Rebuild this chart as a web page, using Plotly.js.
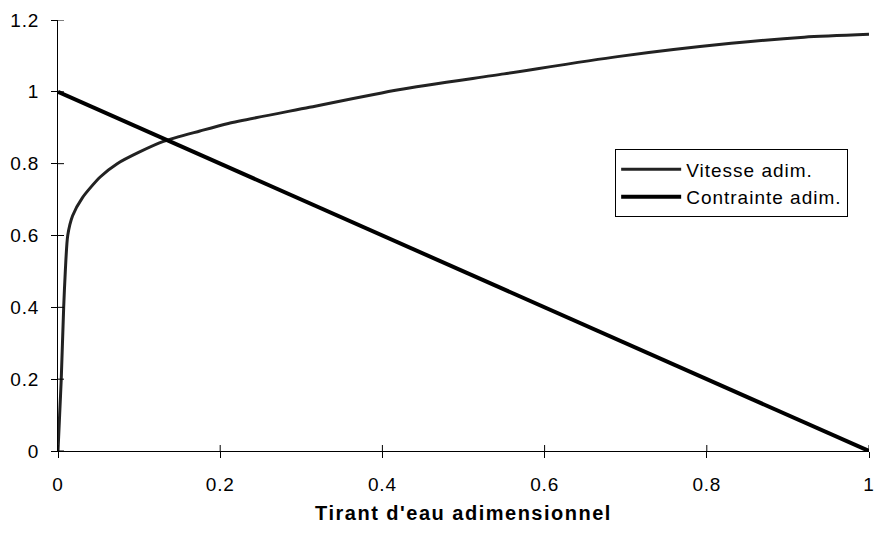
<!DOCTYPE html>
<html>
<head>
<meta charset="utf-8">
<script src="https://cdn.plot.ly/plotly-3.0.1.min.js"></script>
<style>
  html, body { margin: 0; padding: 0; background: #fff; }
  #chart { width: 874px; height: 533px; }
  .legendtext { letter-spacing: 1px; }
  .xtick text, .ytick text { letter-spacing: 0.8px; }
  .xtitle { letter-spacing: 1.5px; }
</style>
</head>
<body>
<div id="chart"></div>
<script>
// Dimensionless draught (depth fraction) on the horizontal axis
const depth = [0, 0.002, 0.004, 0.007, 0.009, 0.012, 0.018, 0.03, 0.052, 0.073, 0.1, 0.13,
               0.175, 0.21, 0.31, 0.42, 0.55, 0.69, 0.83, 0.92, 1.0];
// Dimensionless velocity profile
const vitesse = [0, 0.1, 0.2, 0.4, 0.5, 0.6, 0.655, 0.705, 0.763, 0.8, 0.832, 0.862,
                 0.891, 0.912, 0.957, 1.006, 1.05, 1.098, 1.135, 1.152, 1.16];
// Dimensionless shear stress: linear from bed to surface
const depthStress = [0, 1];
const contrainte = [1, 0];

const seriesNames = ['Vitesse adim.', 'Contrainte adim.'];
const xTicks = [0, 0.2, 0.4, 0.6, 0.8, 1];
const xTickText = ['0', '0.2', '0.4', '0.6', '0.8', '1'];
const yTicks = [0, 0.2, 0.4, 0.6, 0.8, 1, 1.2];
const yTickText = ['0', '0.2', '0.4', '0.6', '0.8', '1', '1.2'];

const fontFamily = 'Arial, "Liberation Sans", sans-serif';
const tickFont = { family: fontFamily, size: 19, color: '#000' };

const W = 874, H = 533;
const M = { l: 58, r: 5, t: 20, b: 82 };
const TICK_LEN = 6;
const plotW = W - M.l - M.r;
const plotH = H - M.t - M.b;

const traces = [
  {
    x: depth, y: vitesse, name: seriesNames[0],
    type: 'scatter', mode: 'lines',
    line: { color: '#222', width: 3, shape: 'spline', smoothing: 0.7 }
  },
  {
    x: depthStress, y: contrainte, name: seriesNames[1],
    type: 'scatter', mode: 'lines',
    line: { color: '#000', width: 4 }
  }
];

// inner half of the crossing tick marks, one per tick value
const innerTicks = [
  ...xTicks.map(v => ({
    type: 'line', xref: 'x', yref: 'y domain', layer: 'above',
    x0: v, x1: v, y0: 0, y1: TICK_LEN / plotH,
    line: { color: '#000', width: 1 }
  })),
  ...yTicks.map(v => ({
    type: 'line', xref: 'x domain', yref: 'y', layer: 'above',
    x0: 0, x1: TICK_LEN / plotW, y0: v, y1: v,
    line: { color: '#000', width: 1 }
  }))
];

const layout = {
  width: W, height: H,
  margin: M,
  paper_bgcolor: '#fff', plot_bgcolor: '#fff',
  showlegend: true,
  legend: {
    x: 0.687, y: 0.70, xanchor: 'left', yanchor: 'top',
    bgcolor: '#fff', bordercolor: '#000', borderwidth: 1,
    font: { family: fontFamily, size: 19, color: '#000' },
    tracegroupgap: 0, itemwidth: 60
  },
  xaxis: {
    range: [0, 1], tickvals: xTicks, ticktext: xTickText,
    ticks: 'outside', ticklen: TICK_LEN, tickwidth: 1, tickcolor: '#000',
    showline: true, linecolor: '#000', linewidth: 1,
    showgrid: false, zeroline: false, tickfont: tickFont,
    ticklabelstandoff: 10, ticklabeloverflow: 'allow',
    title: {
      text: "Tirant d'eau adimensionnel",
      font: { family: fontFamily, size: 20, color: '#000', weight: 'bold' },
      standoff: 12
    }
  },
  yaxis: {
    range: [0, 1.2], tickvals: yTicks, ticktext: yTickText,
    ticks: 'outside', ticklen: TICK_LEN, tickwidth: 1, tickcolor: '#000',
    showline: true, linecolor: '#000', linewidth: 1,
    showgrid: false, zeroline: false, tickfont: tickFont,
    ticklabelstandoff: 8, ticklabeloverflow: 'allow'
  },
  shapes: innerTicks
};

Plotly.newPlot('chart', traces, layout, { staticPlot: true, displayModeBar: false });
</script>
</body>
</html>
